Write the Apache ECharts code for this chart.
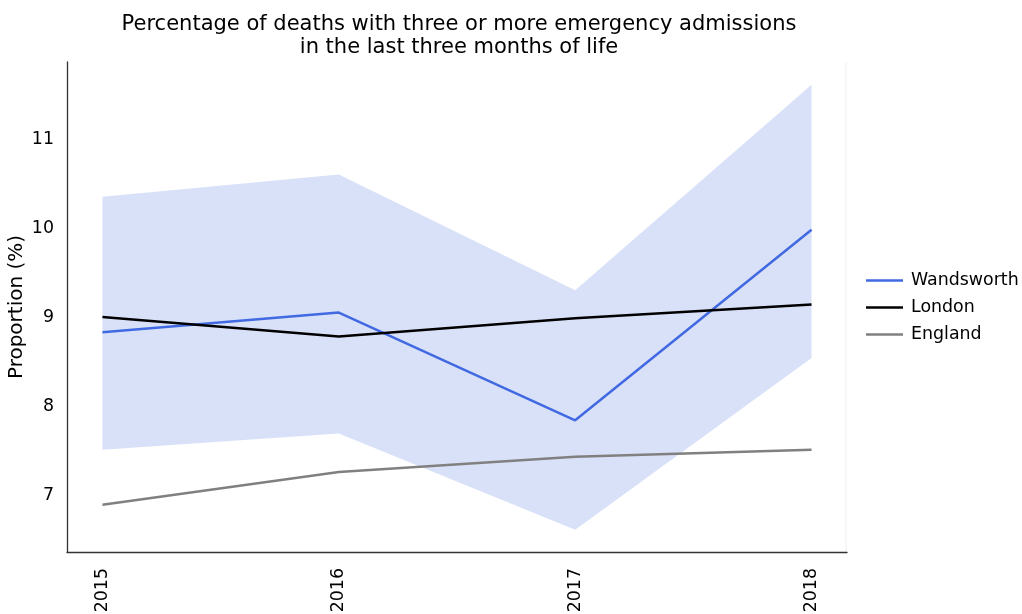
<!DOCTYPE html>
<html>
<head>
<meta charset="utf-8">
<title>Emergency admissions in the last three months of life</title>
<script src="https://cdn.jsdelivr.net/npm/echarts@6/dist/echarts.min.js"></script>
<style>
  html, body { margin: 0; padding: 0; background: #ffffff; }
  #chart { width: 1022px; height: 614px; }
</style>
</head>
<body>
<div id="chart"></div>
<script>
// Years on the x axis
const years = [2015, 2016, 2017, 2018];

// Percentage of deaths with three or more emergency admissions
const wandsworth = [8.83, 9.05, 7.84, 9.98];
const london = [9.00, 8.78, 8.985, 9.14];
const england = [6.89, 7.26, 7.43, 7.51];

// Wandsworth confidence interval
const ciUpper = [10.35, 10.60, 9.30, 11.61];
const ciLower = [7.51, 7.69, 6.61, 8.54];

// Tick labels
const yTicks = [7, 8, 9, 10, 11];

const FONT = 'DejaVu Sans';

const pairs = (vals) => years.map((y, i) => [y, vals[i]]);

// Band rows: year, lower bound, upper bound
const bandData = years.map((y, i) => [y, ciLower[i], ciUpper[i]]);

const chart = echarts.init(document.getElementById('chart'), null, { renderer: 'canvas' });

chart.setOption({
  backgroundColor: '#ffffff',
  animation: false,
  title: {
    text: 'Percentage of deaths with three or more emergency admissions\nin the last three months of life',
    left: 454,
    top: 8,
    textAlign: 'center',
    textStyle: {
      fontFamily: FONT,
      fontSize: 21,
      fontWeight: 'normal',
      color: '#000000',
      lineHeight: 23
    }
  },
  legend: {
    orient: 'vertical',
    left: 861,
    top: 267,
    itemWidth: 37,
    itemHeight: 2.5,
    itemGap: 10,
    icon: 'rect',
    textStyle: { fontFamily: FONT, fontSize: 17.4, color: '#000000', padding: [0, 0, 0, 3] },
    data: ['Wandsworth', 'London', 'England']
  },
  grid: {
    left: 67, right: 175, top: 62, bottom: 62,
    containLabel: false, outerBoundsMode: 'none', show: false
  },
  xAxis: {
    type: 'value',
    min: 2014.85,
    max: 2018.15,
    splitLine: { show: false },
    axisLine: { show: true, onZero: false, lineStyle: { color: '#333333', width: 1.3 } },
    axisTick: { show: false, customValues: years },
    axisLabel: {
      customValues: years,
      rotate: 90,
      margin: 16,
      fontFamily: FONT,
      fontSize: 17.4,
      color: '#000000',
      formatter: (v) => String(v)
    }
  },
  yAxis: {
    type: 'value',
    min: 6.36,
    max: 11.865,
    name: 'Proportion (%)',
    nameLocation: 'middle',
    nameGap: 40,
    nameMoveOverlap: false,
    nameRotate: 90,
    nameTextStyle: { fontFamily: FONT, fontSize: 20, color: '#000000' },
    splitLine: { show: false },
    axisLine: { show: true, onZero: false, lineStyle: { color: '#333333', width: 1.3 } },
    axisTick: { show: false, customValues: yTicks },
    axisLabel: {
      customValues: yTicks,
      margin: 13,
      fontFamily: FONT,
      fontSize: 17.4,
      color: '#000000',
      formatter: (v) => String(v)
    }
  },
  series: [
    {
      // faint right-hand frame edge
      type: 'custom',
      silent: true,
      z: 0,
      data: [[2018.15, 6.36, 11.865]],
      renderItem: (params, api) => {
        const top = api.coord([api.value(0), api.value(2)]);
        const bot = api.coord([api.value(0), api.value(1)]);
        return {
          type: 'line',
          shape: { x1: top[0] - 1, y1: top[1], x2: bot[0] - 1, y2: bot[1] },
          style: { stroke: '#f4f4f4', lineWidth: 1.5 }
        };
      }
    },
    {
      type: 'custom',
      name: 'Wandsworth CI',
      silent: true,
      z: 1,
      data: bandData,
      renderItem: (params, api) => {
        if (params.dataIndex !== 0) return null;
        const upper = bandData.map((d) => api.coord([d[0], d[2]]));
        const lower = bandData.map((d) => api.coord([d[0], d[1]])).reverse();
        return {
          type: 'polygon',
          shape: { points: upper.concat(lower) },
          style: { fill: 'rgba(65, 105, 225, 0.2)', stroke: null }
        };
      }
    },
    {
      name: 'Wandsworth',
      type: 'line',
      z: 3,
      data: pairs(wandsworth),
      symbol: 'none',
      lineStyle: { color: '#4169E1', width: 2.5 },
      itemStyle: { color: '#4169E1' }
    },
    {
      name: 'London',
      type: 'line',
      z: 4,
      data: pairs(london),
      symbol: 'none',
      lineStyle: { color: '#000000', width: 2.5 },
      itemStyle: { color: '#000000' }
    },
    {
      name: 'England',
      type: 'line',
      z: 3,
      data: pairs(england),
      symbol: 'none',
      lineStyle: { color: '#808080', width: 2.5 },
      itemStyle: { color: '#808080' }
    }
  ]
});
</script>
</body>
</html>
